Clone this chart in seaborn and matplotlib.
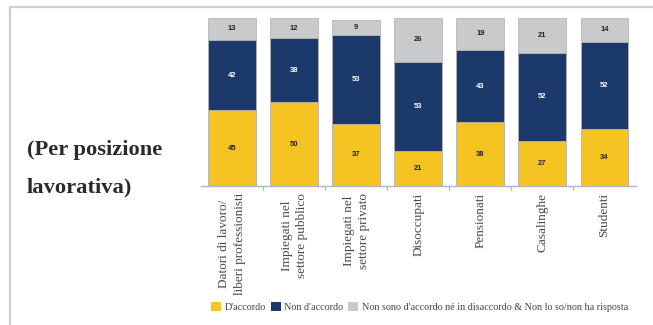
import matplotlib
matplotlib.use("Agg")
import matplotlib.pyplot as plt
from matplotlib.lines import Line2D
from matplotlib.patches import Patch
import seaborn as sns
import pandas as pd
import numpy as np

categories = ["Datori di lavoro/\nliberi professionisti", "Impiegati nel\nsettore pubblico",
              "Impiegati nel\nsettore privato", "Disoccupati", "Pensionati", "Casalinghe", "Studenti"]
accordo = [45, 50, 37, 21, 38, 27, 34]
non_accordo = [42, 38, 53, 53, 43, 52, 52]
ne_ne = [13, 12, 9, 26, 19, 21, 14]
series_names = ["D'accordo", "Non d'accordo",
                "Non sono d'accordo né in disaccordo & Non lo so/non ha risposta"]
colors = ["#F5C322", "#1B3A6B", "#C9CACB"]

sns.set_theme(style="white")
plt.rcParams['font.family'] = ['Liberation Serif', 'DejaVu Serif']

fig = plt.figure(figsize=(6.53, 3.25), dpi=100)
ax = fig.add_axes([201/653, 1 - 186/325, 434.5/653, 168/325])

a = np.array(accordo); b = np.array(non_accordo); c = np.array(ne_ne)
cum = [a + b + c, a + b, a]
for vals, col in zip(cum, colors[::-1]):
    sns.barplot(x=categories, y=vals, color=col, width=0.77, ax=ax,
                edgecolor="#B8B8B8", linewidth=0.6, saturation=1)

ax.set_xlim(-0.5, 6.5)
ax.set_ylim(0, 100)
for s in ["top", "right", "left"]:
    ax.spines[s].set_visible(False)
ax.spines["bottom"].set_color("#A9B7C6")
ax.spines["bottom"].set_linewidth(1.0)
ax.set_yticks([])
ax.set_ylabel("")
ax.set_xlabel("")
ax.set_xticks(np.arange(7))
ax.set_xticklabels(categories, rotation=90, fontsize=9.5, color="#4a4a4a",
                   multialignment="center", linespacing=1.35)
ax.tick_params(axis="x", length=0, pad=5)
for xb in np.arange(0.5, 6.5, 1.0):
    ax.plot([xb, xb], [0, -2.5], color="#A9B7C6", lw=0.8, clip_on=False)

lab_font = ['Liberation Sans', 'DejaVu Sans']
for i in range(7):
    segs = [(0, a[i], "#222222"), (a[i], a[i] + b[i], "white"),
            (a[i] + b[i], a[i] + b[i] + c[i], "#222222")]
    vals = [a[i], b[i], c[i]]
    for (lo, hi, tc), v in zip(segs, vals):
        ax.text(i, (lo + hi) / 2, str(v), ha="center", va="center", fontsize=5.5,
                fontweight="bold", color=tc, family=lab_font)

handles = [Patch(facecolor=col, edgecolor="none") for col in colors]
fig.legend(handles, series_names, loc="center left", bbox_to_anchor=(206/653, 1 - 307/325),
           ncol=3, frameon=False, fontsize=7.3, handlelength=1.0, handleheight=1.0,
           handletextpad=0.35, columnspacing=0.45, borderpad=0, labelcolor="#444444")

fig.text(27/653, 1 - 150/325, "(Per posizione", fontsize=16.2, fontweight="bold",
         color="#2a2a2a", va="center", ha="left")
fig.text(27/653, 1 - 187/325, "lavorativa)", fontsize=16.2, fontweight="bold",
         color="#2a2a2a", va="center", ha="left")

fig.add_artist(Line2D([9.5/653, 1], [1 - 7/325, 1 - 7/325], color="#D0D0D0", lw=1.6,
                      transform=fig.transFigure))
fig.add_artist(Line2D([9.5/653, 9.5/653], [0, 1 - 7/325], color="#D0D0D0", lw=1.6,
                      transform=fig.transFigure))

fig.savefig("out.png", dpi=100)
